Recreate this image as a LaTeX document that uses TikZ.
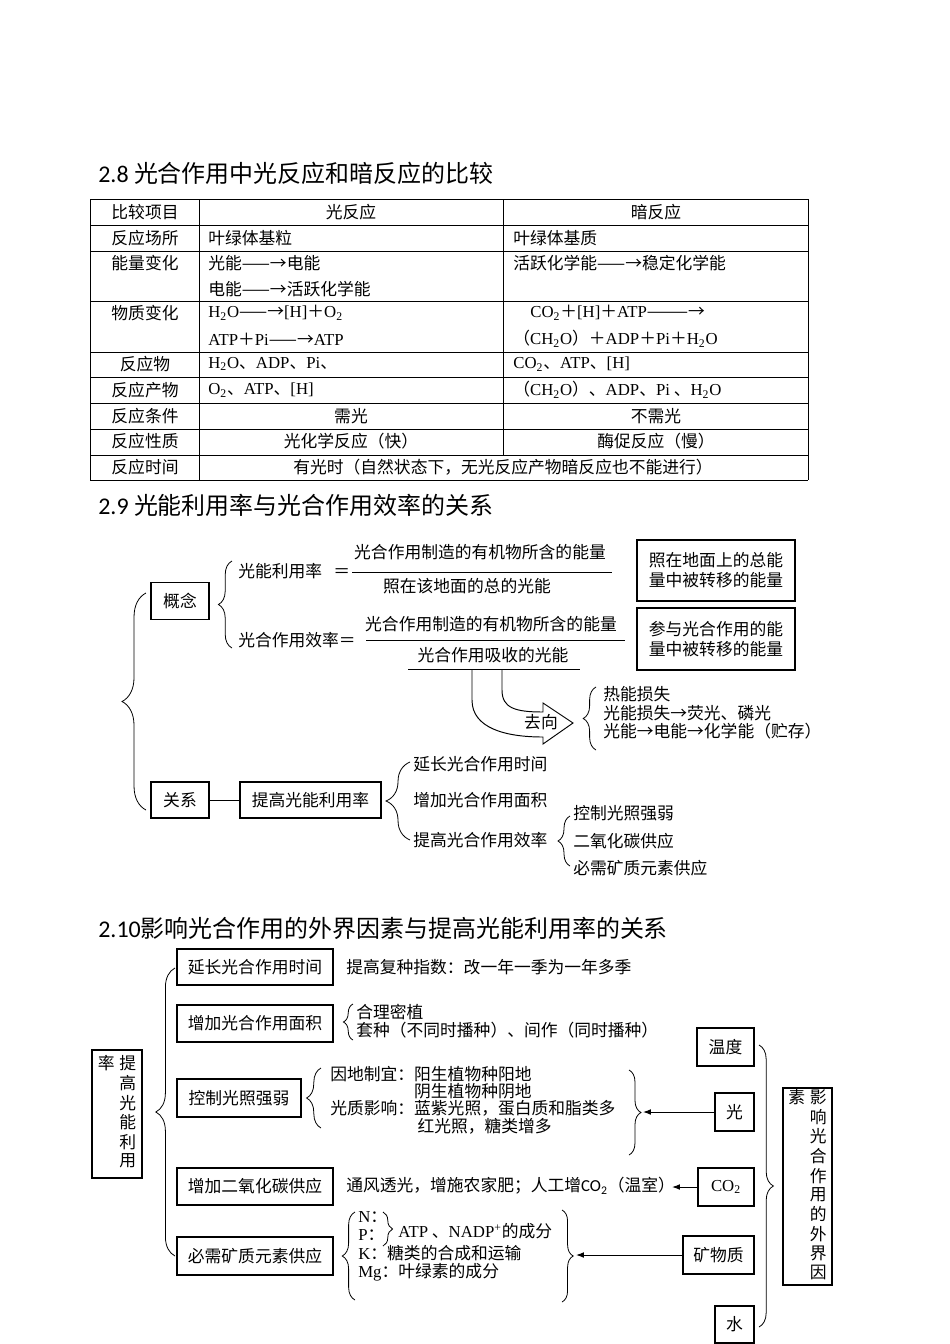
\documentclass[tikz,border=0pt]{standalone}
\usepackage{fontspec}
\setmainfont{Noto Sans CJK SC}
\newfontfamily\lat{Liberation Serif}
\newfontfamily\titlefont{Carlito}
\usetikzlibrary{arrows.meta,positioning,decorations.pathreplacing}

\newcommand\chem[1]{{\lat #1}}
\newcommand\sbs[1]{\textsubscript{#1}}

\begin{document}
\begin{tikzpicture}[
  x=0.626pt, y=-0.626pt,
  font=\fontsize{10.5}{11.6}\selectfont,
  title/.style={inner sep=0pt,anchor=west,font=\fontsize{15}{18}\selectfont},
  lbl/.style={inner sep=0pt,anchor=west,align=left},
  mid/.style={inner sep=0pt,align=center},
  box/.style={draw,line width=0.7pt,inner sep=0pt,align=center},
  wd/.style={minimum width=#1*0.626pt},
  ht/.style={minimum height=#1*0.626pt},
  brc/.style={decorate,decoration={brace,amplitude=#1},line width=0.5pt},
  arrow/.style={-{Latex[length=5pt,width=3.6pt]},line width=0.6pt},
  grid/.style={line width=0.6pt}
]
\path[fill=white] (0,0) rectangle (950,1344);
\useasboundingbox (0,0) rectangle (950,1344);

% 2.8 table
\node[title] (t28) at (98,173) {{\titlefont 2.8} 光合作用中光反应和暗反应的比较};
\foreach \y in {199,225,251,301,352,377,403,429,455,480}
  \draw[grid] (90,\y) -- (808,\y);
\draw[grid] (90,199) -- (90,480) (199,199) -- (199,480)
  (503,199) -- (503,455) (808,199) -- (808,480);
\foreach \y/\txt in {212/比较项目,238/反应场所,263/能量变化,313/物质变化,364/反应物,390/反应产物,416/反应条件,441/反应性质,467/反应时间}
  \node[mid] (item\y) at (145,\y) {\txt};
\node[mid] (lhead) at (351,212) {光反应};
\node[mid] (dhead) at (656,212) {暗反应};
\node[lbl] (lsite) at (208,238) {叶绿体基粒};
\node[lbl] (dsite) at (513,238) {叶绿体基质};
\node[lbl] (len1) at (208,263) {光能——→电能};
\node[lbl] (len2) at (208,289) {电能——→活跃化学能};
\node[lbl] (den) at (513,263) {活跃化学能——→稳定化学能};
\node[lbl] (lmat1) at (208,313) {\chem{H\sbs{2}O}——→\chem{[H]}＋\chem{O\sbs{2}}};
\node[lbl] (lmat2) at (208,339) {\chem{ATP}＋\chem{Pi}——→\chem{ATP}};
\node[lbl] (dmat1) at (530,313) {\chem{CO\sbs{2}}＋\chem{[H]}＋\chem{ATP}———→};
\node[lbl] (dmat2) at (513,339) {（\chem{CH\sbs{2}O}）＋\chem{ADP}＋\chem{Pi}＋\chem{H\sbs{2}O}};
\node[lbl] (lin) at (208,364) {\chem{H\sbs{2}O}、\chem{ADP}、\chem{Pi}、};
\node[lbl] (din) at (513,364) {\chem{CO\sbs{2}}、\chem{ATP}、\chem{[H]}};
\node[lbl] (lout) at (208,390) {\chem{O\sbs{2}}、\chem{ATP}、\chem{[H]}};
\node[lbl] (dout) at (513,390) {（\chem{CH\sbs{2}O}）、\chem{ADP}、\chem{Pi} 、\chem{H\sbs{2}O}};
\node[mid] (lcond) at (351,416) {需光};
\node[mid] (dcond) at (656,416) {不需光};
\node[mid] (lkind) at (351,441) {光化学反应（快）};
\node[mid] (dkind) at (656,441) {酶促反应（慢）};
\node[mid] (time) at (503,467) {有光时（自然状态下，无光反应产物暗反应也不能进行）};

% 2.9
\node[title] (t29) at (98,505) {{\titlefont 2.9} 光能利用率与光合作用效率的关系};
\node[box,wd=58,ht=37] (concept) at (180,601) {概念};
\node[box,wd=58,ht=36] (relation) at (180,800) {关系};
\node[box,wd=141,ht=36] (raise) at (310.5,800) {提高光能利用率};
\draw[brc=15pt] (146,810) -- (146,593);
\draw[brc=8.5pt] (232,648) -- (232,561);
\node[lbl] (lur) at (238,571) {光能利用率\hspace{7pt}＝};
\node[mid] (num1) at (480,552) {光合作用制造的有机物所含的能量};
\node[mid] (den1) at (467,586) {照在该地面的总的光能};
\draw (352,572) -- (612,572);
\node[lbl] (pe) at (238,640) {光合作用效率＝};
\node[mid] (num2) at (491,624) {光合作用制造的有机物所含的能量};
\node[mid] (den2) at (493,655) {光合作用吸收的光能};
\draw (366,640) -- (625,640);
\draw (408,669) -- (580,669);
\node[box,wd=158,ht=61,font=\fontsize{10.5}{12.5}\selectfont] (note1) at (716,570.5) {照在地面上的总能\\量中被转移的能量};
\node[box,wd=158,ht=62,font=\fontsize{10.5}{12.5}\selectfont] (note2) at (716,639) {参与光合作用的能\\量中被转移的能量};
\draw[line width=0.6pt] (472,669) -- (472,700) .. controls (472,728) and (505,737) .. (543,737)
  -- (543,744) -- (573,723) -- (543,703) -- (543,712)
  .. controls (515,712) and (502,708) .. (502,690) -- (502,669);
\node[mid] (whereto) at (541,722) {去向};
\draw[brc=8pt] (596,750) -- (596,687);
\node[lbl] (dest) at (603,713) {热能损失\\光能损失→荧光、磷光\\光能→电能→化学能（贮存）};
\draw (relation) -- (raise);
\draw[brc=15pt] (410,840) -- (410,762);
\node[lbl] (way1) at (413,764) {延长光合作用时间};
\node[lbl] (way2) at (413,800) {增加光合作用面积};
\node[lbl] (way3) at (413,840) {提高光合作用效率};
\draw[brc=7.5pt] (570,866) -- (570,816);
\node[lbl] (eff1) at (573,813) {控制光照强弱};
\node[lbl] (eff2) at (573,841) {二氧化碳供应};
\node[lbl] (eff3) at (573,868) {必需矿质元素供应};

% 2.10
\node[title] (t210) at (98,928) {{\titlefont 2.10}影响光合作用的外界因素与提高光能利用率的关系};
\node[box,wd=50,ht=128] (goal) at (117,1114) {\begin{tabular}{@{}c@{\hspace{3pt}}c@{}}率&提\\&高\\&光\\&能\\&利\\&用\end{tabular}};
\node[box,wd=49,ht=197] (factor) at (807.5,1186.5) {\begin{tabular}{@{}c@{\hspace{3pt}}c@{}}素&影\\&响\\&光\\&合\\&作\\&用\\&的\\&外\\&界\\&因\end{tabular}};
\draw[brc=12pt] (175,1256) -- (175,968);
\node[box,wd=156,ht=36] (longer) at (255,967) {延长光合作用时间};
\node[box,wd=156,ht=37] (wider) at (255,1023.5) {增加光合作用面积};
\node[box,wd=124,ht=38] (lightctl) at (239,1098) {控制光照强弱};
\node[box,wd=156,ht=37] (co2sup) at (255,1186.5) {增加二氧化碳供应};
\node[box,wd=156,ht=38] (minsup) at (255,1256) {必需矿质元素供应};
\node[lbl] (multi) at (346,967) {提高复种指数：改一年一季为一年多季};
\draw[brc=6pt] (353,1040) -- (353,1004);
\node[lbl] (plant) at (356,1021) {合理密植\\套种（不同时播种）、间作（同时播种）};
\draw[brc=9pt] (321,1128) -- (321,1068);
\node[lbl,font=\fontsize{10.5}{10.9}\selectfont] (lightway) at (330,1100) {因地制宜：阳生植物种阳地\\\hspace*{5em}阴生植物种阴地\\光质影响：蓝紫光照，蛋白质和脂类多\\\hspace*{5.2em}红光照，糖类增多};
\draw[brc=7.5pt] (629,1070) -- (629,1155);
\coordinate (lighttip) at (643,1112);
\node[lbl] (vent) at (346,1186) {通风透光，增施农家肥；人工增{\titlefont CO\sbs{2}}（温室）};
\coordinate (co2tip) at (672,1187);
\draw[brc=8pt] (355,1300) -- (355,1212);
\node[lbl] (elem) at (358,1246.5) {\chem{N}：\\\chem{P}：\\\chem{K}：糖类的合成和运输\\\chem{Mg}：叶绿素的成分};
\draw[brc=6pt] (383,1212) -- (383,1246);
\node[lbl] (atp) at (398,1231) {\chem{ATP} 、\chem{NADP\textsuperscript{+}}的成分};
\draw[brc=7pt] (562,1210) -- (562,1302);
\coordinate (mintip) at (576,1255);
\node[box,wd=57,ht=38] (temp) at (725.5,1047) {温度};
\node[box,wd=39,ht=38] (light) at (734.5,1112) {光};
\node[box,wd=56,ht=38] (co2) at (726,1187) {\chem{CO\sbs{2}}};
\node[box,wd=71,ht=38] (mineral) at (718.5,1255) {矿物质};
\node[box,wd=39,ht=37] (water) at (734.5,1324.5) {水};
\draw[brc=9pt] (759,1045) -- (759,1327);
\draw[arrow] (light) -- (lighttip);
\draw[arrow] (co2) -- (co2tip);
\draw[arrow] (mineral) -- (mintip);
\end{tikzpicture}
\end{document}
